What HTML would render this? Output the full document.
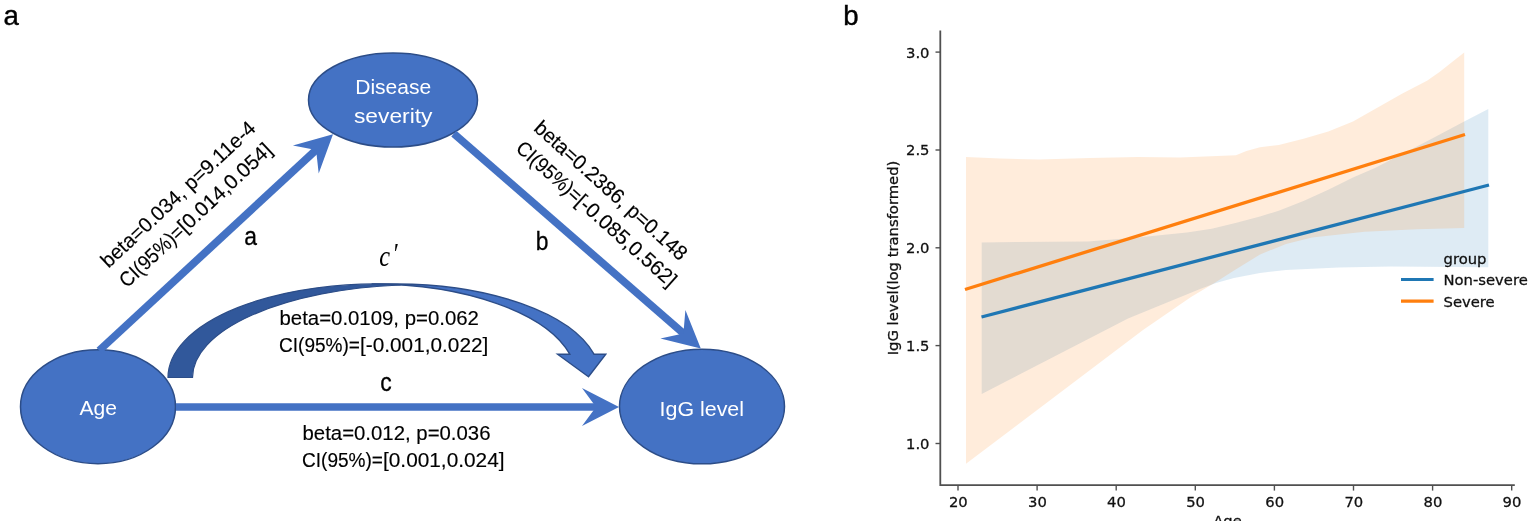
<!DOCTYPE html>
<html><head><meta charset="utf-8"><title>Figure</title>
<style>
html,body{margin:0;padding:0;background:#fff;}
body{width:1535px;height:526px;overflow:hidden;}
svg{display:block;}
.cal{font-family:"Liberation Sans","DejaVu Sans",sans-serif;}
.dv{font-family:"DejaVu Sans","Liberation Sans",sans-serif;}
</style></head><body>
<svg width="1535" height="526" viewBox="0 0 1535 526">
<rect width="1535" height="526" fill="#fff"/>

<g id="chart">
<polygon points="981.7,242.4 1088.0,241.4 1137.7,237.5 1187.0,232.5 1211.8,228.8 1236.5,222.7 1260.0,216.5 1278.8,210.8 1303.5,200.9 1328.3,189.8 1353.0,177.4 1375.0,168.0 1427.0,141.3 1464.2,121.5 1488.3,109.0 1488.3,267.3 1390.6,266.6 1338.5,267.5 1286.0,270.0 1260.0,273.0 1234.0,278.0 1216.0,283.0 1199.4,289.3 1128.0,318.6 981.7,394.0" fill="#1f77b4" fill-opacity="0.15"/>
<polygon points="966.0,157.0 1000.0,158.5 1039.0,159.5 1090.0,158.0 1138.0,157.0 1180.0,157.5 1236.0,155.2 1246.4,151.0 1260.0,147.3 1278.8,145.0 1303.5,138.8 1328.3,131.4 1353.0,121.5 1377.7,107.5 1402.4,93.6 1427.0,80.8 1439.5,72.1 1451.8,62.2 1464.2,52.4 1464.2,228.0 1416.6,229.2 1364.5,231.8 1312.0,237.5 1286.0,244.0 1260.0,254.4 1234.0,270.4 1216.0,282.0 1191.0,297.0 1143.0,330.0 966.0,463.8" fill="#ff7f0e" fill-opacity="0.15"/>
<line x1="981.5" y1="317" x2="1489" y2="185" stroke="#1f77b4" stroke-width="3.3" />
<line x1="965" y1="289.5" x2="1465" y2="134.5" stroke="#ff7f0e" stroke-width="3.3" />
<path d="M940.3,30.5 V485.2 H1514.8" fill="none" stroke="#505050" stroke-width="1.8"/>
<line x1="935.5" y1="443.5" x2="940.3" y2="443.5" stroke="#505050" stroke-width="1.4"/>
<text class="dv" transform="translate(929.5,448.9) scale(0.993,1)" font-size="14.9" text-anchor="end" fill="#111" stroke="#111" stroke-width="0.3">1.0</text>
<line x1="935.5" y1="345.6" x2="940.3" y2="345.6" stroke="#505050" stroke-width="1.4"/>
<text class="dv" transform="translate(929.5,351.0) scale(0.993,1)" font-size="14.9" text-anchor="end" fill="#111" stroke="#111" stroke-width="0.3">1.5</text>
<line x1="935.5" y1="247.8" x2="940.3" y2="247.8" stroke="#505050" stroke-width="1.4"/>
<text class="dv" transform="translate(929.5,253.2) scale(0.993,1)" font-size="14.9" text-anchor="end" fill="#111" stroke="#111" stroke-width="0.3">2.0</text>
<line x1="935.5" y1="150.0" x2="940.3" y2="150.0" stroke="#505050" stroke-width="1.4"/>
<text class="dv" transform="translate(929.5,155.4) scale(0.993,1)" font-size="14.9" text-anchor="end" fill="#111" stroke="#111" stroke-width="0.3">2.5</text>
<line x1="935.5" y1="52.1" x2="940.3" y2="52.1" stroke="#505050" stroke-width="1.4"/>
<text class="dv" transform="translate(929.5,57.5) scale(0.993,1)" font-size="14.9" text-anchor="end" fill="#111" stroke="#111" stroke-width="0.3">3.0</text>
<line x1="958.0" y1="485.2" x2="958.0" y2="490.6" stroke="#505050" stroke-width="1.4"/>
<text class="dv" transform="translate(958.3,506.8) scale(0.993,1)" font-size="14.9" text-anchor="middle" fill="#111" stroke="#111" stroke-width="0.3">20</text>
<line x1="1037.1" y1="485.2" x2="1037.1" y2="490.6" stroke="#505050" stroke-width="1.4"/>
<text class="dv" transform="translate(1037.4,506.8) scale(0.993,1)" font-size="14.9" text-anchor="middle" fill="#111" stroke="#111" stroke-width="0.3">30</text>
<line x1="1116.2" y1="485.2" x2="1116.2" y2="490.6" stroke="#505050" stroke-width="1.4"/>
<text class="dv" transform="translate(1116.5,506.8) scale(0.993,1)" font-size="14.9" text-anchor="middle" fill="#111" stroke="#111" stroke-width="0.3">40</text>
<line x1="1195.3" y1="485.2" x2="1195.3" y2="490.6" stroke="#505050" stroke-width="1.4"/>
<text class="dv" transform="translate(1195.6,506.8) scale(0.993,1)" font-size="14.9" text-anchor="middle" fill="#111" stroke="#111" stroke-width="0.3">50</text>
<line x1="1274.4" y1="485.2" x2="1274.4" y2="490.6" stroke="#505050" stroke-width="1.4"/>
<text class="dv" transform="translate(1274.7,506.8) scale(0.993,1)" font-size="14.9" text-anchor="middle" fill="#111" stroke="#111" stroke-width="0.3">60</text>
<line x1="1353.5" y1="485.2" x2="1353.5" y2="490.6" stroke="#505050" stroke-width="1.4"/>
<text class="dv" transform="translate(1353.8,506.8) scale(0.993,1)" font-size="14.9" text-anchor="middle" fill="#111" stroke="#111" stroke-width="0.3">70</text>
<line x1="1432.6" y1="485.2" x2="1432.6" y2="490.6" stroke="#505050" stroke-width="1.4"/>
<text class="dv" transform="translate(1432.9,506.8) scale(0.993,1)" font-size="14.9" text-anchor="middle" fill="#111" stroke="#111" stroke-width="0.3">80</text>
<line x1="1511.7" y1="485.2" x2="1511.7" y2="490.6" stroke="#505050" stroke-width="1.4"/>
<text class="dv" transform="translate(1512.0,506.8) scale(0.993,1)" font-size="14.9" text-anchor="middle" fill="#111" stroke="#111" stroke-width="0.3">90</text>
<clipPath id="cb"><rect x="0" y="0" width="1535" height="521"/></clipPath>
<g clip-path="url(#cb)"><text class="dv" transform="translate(1227.5,525.8) scale(0.993,1)" font-size="14.9" text-anchor="middle" fill="#111" stroke="#111" stroke-width="0.3">Age</text></g>
<text class="dv" transform="translate(897.5,258.0) rotate(-90) scale(0.993,1)" font-size="14.9" text-anchor="middle" fill="#111" stroke="#111" stroke-width="0.3">IgG level(log transformed)</text>
<text class="dv" transform="translate(1443.5,263.5) scale(0.993,1)" font-size="14.9" text-anchor="start" fill="#111" stroke="#111" stroke-width="0.3">group</text>
<line x1="1401" y1="279.5" x2="1433.6" y2="279.5" stroke="#1f77b4" stroke-width="3.2"/>
<text class="dv" transform="translate(1443.5,285.2) scale(0.993,1)" font-size="14.9" text-anchor="start" fill="#111" stroke="#111" stroke-width="0.3">Non-severe</text>
<line x1="1401" y1="301.1" x2="1433.6" y2="301.1" stroke="#ff7f0e" stroke-width="3.2"/>
<text class="dv" transform="translate(1443.5,306.5) scale(0.993,1)" font-size="14.9" text-anchor="start" fill="#111" stroke="#111" stroke-width="0.3">Severe</text>
</g>
<g id="diagram">
<path d="M588.5,376.7 L557.6,354.2 L569.8,354.2 A204.3,93.5 0 0 0 371.6,284.0 L396.9,284.0 A204.3,93.5 0 0 1 594.0,354.2 L605.8,354.2 Z" fill="#4472C4" stroke="#2C4D88" stroke-width="1.4" stroke-linejoin="miter"/>
<path d="M168,377.5 A208,93.5 0 0 1 400,284.6 L400,285 A230,93 0 0 0 192.5,377.5 Z" fill="#31589B" stroke="#2C4D88" stroke-width="1.2" stroke-linejoin="miter"/>
<ellipse cx="98.0" cy="406.7" rx="77.5" ry="57.0" fill="#4472C4" stroke="#2C4D88" stroke-width="1.5"/>
<ellipse cx="393.0" cy="100.0" rx="84.5" ry="47.0" fill="#4472C4" stroke="#2C4D88" stroke-width="1.5"/>
<ellipse cx="702.0" cy="406.5" rx="82.5" ry="57.3" fill="#4472C4" stroke="#2C4D88" stroke-width="1.5"/>
<line x1="99.2" y1="350.5" x2="318.3" y2="147.9" stroke="#4472C4" stroke-width="7.7"/><polygon points="333.0,134.3 318.7,173.4 316.1,149.9 292.9,145.5" fill="#4472C4"/>
<line x1="453.8" y1="133.6" x2="685.7" y2="335.4" stroke="#4472C4" stroke-width="7.7"/><polygon points="700.8,348.5 660.4,338.5 683.4,333.4 685.4,309.9" fill="#4472C4"/>
<line x1="176.0" y1="407.0" x2="599.0" y2="407.0" stroke="#4472C4" stroke-width="7.7"/><polygon points="619.0,407.0 582.0,426.0 596.0,407.0 582.0,388.0" fill="#4472C4"/>
<text class="cal" x="98.3" y="415.4" font-size="20.8" fill="#fff" text-anchor="middle" textLength="37.5" lengthAdjust="spacingAndGlyphs">Age</text>
<text class="cal" x="393.2" y="93.9" font-size="20.8" fill="#fff" text-anchor="middle" textLength="76.0" lengthAdjust="spacingAndGlyphs">Disease</text>
<text class="cal" x="393.2" y="123.2" font-size="20.8" fill="#fff" text-anchor="middle" textLength="78.5" lengthAdjust="spacingAndGlyphs">severity</text>
<text class="cal" x="701.8" y="415.5" font-size="20.8" fill="#fff" text-anchor="middle" textLength="84.5" lengthAdjust="spacingAndGlyphs">IgG level</text>
<text class="cal" y="324.5" font-size="20.5" fill="#000" stroke="#000" stroke-width="0.15"><tspan x="279.5" textLength="199.4" lengthAdjust="spacingAndGlyphs">beta=0.0109, p=0.062</tspan></text>
<text class="cal" y="351.6" font-size="20.5" fill="#000" stroke="#000" stroke-width="0.15"><tspan x="279.0" textLength="81.0" lengthAdjust="spacingAndGlyphs">CI(95%)=</tspan><tspan x="360.0" textLength="128.3" lengthAdjust="spacingAndGlyphs">[-0.001,0.022]</tspan></text>
<text class="cal" y="439.6" font-size="20.5" fill="#000" stroke="#000" stroke-width="0.15"><tspan x="302.5" textLength="188.0" lengthAdjust="spacingAndGlyphs">beta=0.012, p=0.036</tspan></text>
<text class="cal" y="466.8" font-size="20.5" fill="#000" stroke="#000" stroke-width="0.15"><tspan x="302.0" textLength="81.0" lengthAdjust="spacingAndGlyphs">CI(95%)=</tspan><tspan x="383.0" textLength="121.5" lengthAdjust="spacingAndGlyphs">[0.001,0.024]</tspan></text>
<text class="cal" transform="translate(380.30,391.00) scale(0.880,1)" font-size="26.0" fill="#000" stroke="#000" stroke-width="0.3">c</text>
<text class="cal" transform="translate(244.30,244.90) scale(0.880,1)" font-size="26.0" fill="#000" stroke="#000" stroke-width="0.3">a</text>
<text class="cal" transform="translate(535.70,250.00) scale(0.880,1)" font-size="26.0" fill="#000" stroke="#000" stroke-width="0.3">b</text>
<text transform="translate(379.3,266) scale(0.84,1)" font-size="29" font-style="italic" font-family="'Liberation Serif','DejaVu Serif',serif" fill="#000">c<tspan dx="2.5" dy="-2.6">′</tspan></text>
<g transform="translate(108.6,268.8) rotate(-43.1)"><text class="cal" y="0.0" font-size="20.5" fill="#000" stroke="#000" stroke-width="0.15"><tspan x="0.0" textLength="203.3" lengthAdjust="spacingAndGlyphs">beta=0.034, p=9.11e-4</tspan></text><text class="cal" y="27.0" font-size="20.5" fill="#000" stroke="#000" stroke-width="0.15"><tspan x="0.0" textLength="80.2" lengthAdjust="spacingAndGlyphs">CI(95%)=</tspan><tspan x="80.2" textLength="120.2" lengthAdjust="spacingAndGlyphs">[0.014,0.054]</tspan></text></g>
<g transform="translate(532.8,129.8) rotate(41.8)"><text class="cal" y="0.0" font-size="20.5" fill="#000" stroke="#000" stroke-width="0.15"><tspan x="0.0" textLength="197.4" lengthAdjust="spacingAndGlyphs">beta=0.2386, p=0.148</tspan></text><text class="cal" y="27.0" font-size="20.5" fill="#000" stroke="#000" stroke-width="0.15"><tspan x="0.0" textLength="80.2" lengthAdjust="spacingAndGlyphs">CI(95%)=</tspan><tspan x="80.2" textLength="127.0" lengthAdjust="spacingAndGlyphs">[-0.085,0.562]</tspan></text></g>
</g>
<text class="cal" x="3.6" y="25.3" font-size="27.6" fill="#000" stroke="#000" stroke-width="0.4">a</text>
<text class="cal" x="843.2" y="25.3" font-size="27.6" fill="#000" stroke="#000" stroke-width="0.4">b</text>
</svg></body></html>
